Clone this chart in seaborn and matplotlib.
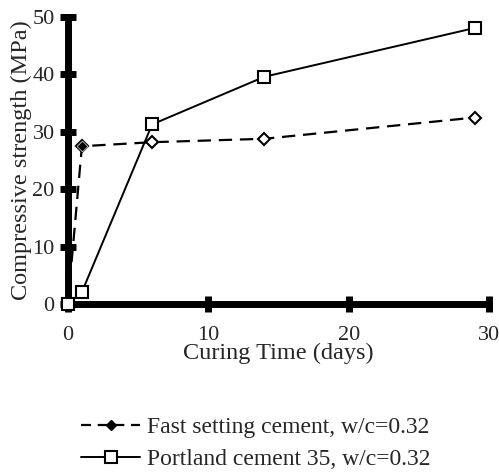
import numpy as np
import pandas as pd
import matplotlib
matplotlib.use("Agg")
import matplotlib.pyplot as plt
import seaborn as sns
from matplotlib.lines import Line2D

# values
fast_days = [0, 1, 6, 14, 29]
fast_strength = [0, 27.5, 28.2, 28.8, 32.5]
port_days = [0, 1, 6, 14, 29]
port_strength = [0, 2.1, 31.3, 39.6, 48.1]
fast_label = "Fast setting cement, w/c=0.32"
port_label = "Portland cement 35, w/c=0.32"
x_ticks = [0, 10, 20, 30]
y_ticks = [0, 10, 20, 30, 40, 50]

sns.set_style("white")
plt.rcParams['font.family'] = ['Liberation Serif', 'DejaVu Serif']

fast = pd.DataFrame({"days": fast_days, "strength": fast_strength})
port = pd.DataFrame({"days": port_days, "strength": port_strength})

fig = plt.figure(figsize=(4.99, 4.73), dpi=100)
ax = fig.add_axes([0.136, 0.357, 0.844, 0.607])

sns.lineplot(data=fast, x="days", y="strength", ax=ax, color="black",
             linewidth=1.6, marker="D", markersize=6,
             markerfacecolor="white", markeredgecolor="black",
             markeredgewidth=1.5, clip_on=False, zorder=3)
ax.lines[-1].set_dashes((6, 3.5))
# first two points drawn solid in the original
sns.scatterplot(x=fast_days[:2], y=fast_strength[:2], ax=ax, marker="D",
                color="black", s=30, clip_on=False, zorder=4)
sns.lineplot(data=port, x="days", y="strength", ax=ax, color="black",
             linewidth=1.4, marker="s", markersize=9,
             markerfacecolor="white", markeredgecolor="black",
             markeredgewidth=1.5, clip_on=False, zorder=5)

ax.set_xlim(0, 30)
ax.set_ylim(0, 50)
ax.set_xticks(x_ticks)
ax.set_yticks(y_ticks)
for side in ["top", "right"]:
    ax.spines[side].set_visible(False)
for side in ["left", "bottom"]:
    ax.spines[side].set_linewidth(5)
    ax.spines[side].set_color("black")
    ax.spines[side].set_capstyle("round")
ax.tick_params(axis="both", direction="inout", length=11, width=5,
               color="black", labelsize=16, bottom=True, left=True)
ax.tick_params(axis="x", pad=10)
ax.tick_params(axis="y", pad=4)
ax.set_xlabel("Curing Time (days)", fontsize=17.5, labelpad=-1)
ax.set_ylabel("Compressive strength (MPa)", fontsize=17.5, labelpad=0)

handles = [
    Line2D([], [], color="black", dashes=(4.5, 3), linewidth=1.6,
           marker="D", markersize=5, markerfacecolor="black"),
    Line2D([], [], color="black", linewidth=1.4, marker="s", markersize=9,
           markerfacecolor="white", markeredgewidth=1.5),
]
fig.legend(handles, [fast_label, port_label], loc="center left",
           bbox_to_anchor=(0.12, 0.063), frameon=False, fontsize=17,
           handlelength=2.5, handletextpad=0.3, labelspacing=0.45)

fig.savefig("out.png", dpi=100)
